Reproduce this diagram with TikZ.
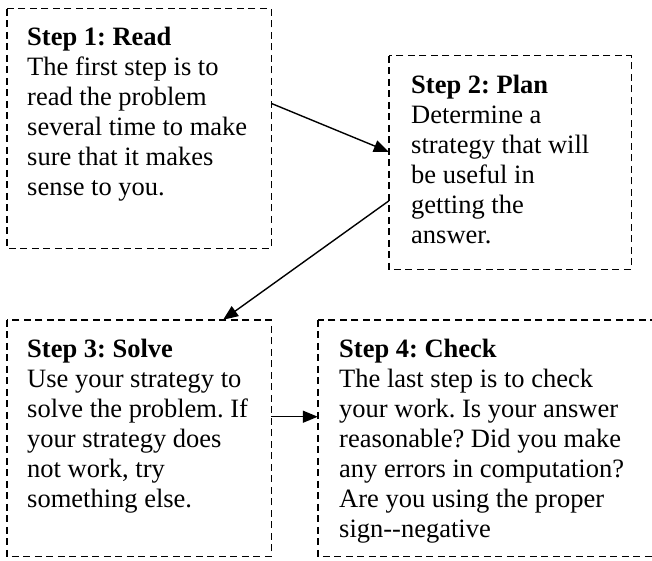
\documentclass[tikz,border=0pt]{standalone}
\usepackage{fontspec}
\setmainfont{Liberation Serif}
\usetikzlibrary{arrows.meta,calc}
\begin{document}
\frenchspacing
\begin{tikzpicture}[x=1pt,y=-1pt,
  stepbox/.style={draw, line width=1.4pt, dash pattern=on 7pt off 4.5pt},
  steptext/.style={anchor=north west, inner sep=0pt, align=left,
    font=\fontsize{26.5}{30}\selectfont},
  conn/.style={line width=1.4pt, -{Triangle[length=15pt,width=12pt]}}]
\useasboundingbox (0,0) rectangle (652,561);
\clip (0,0) rectangle (652,561);
\fill[white] (0,0) rectangle (652,561);
% boxes
\node[inner sep=0pt, minimum width=264pt, minimum height=239pt] (b1) at (139,128.5) {};
\draw[stepbox] (b1.north west) rectangle (b1.south east);
\node[inner sep=0pt, minimum width=242pt, minimum height=213pt] (b2) at (510,162.5) {};
\draw[stepbox] (b2.north west) rectangle (b2.south east);
\node[inner sep=0pt, minimum width=264pt, minimum height=236pt] (b3) at (139,438) {};
\draw[stepbox] (b3.north west) rectangle (b3.south east);
\node[inner sep=0pt, minimum width=347pt, minimum height=236pt] (b4) at (491.5,438) {};
\draw[stepbox] (b4.north west) rectangle (b4.south east);
% texts
\node[steptext] (t1) at (27,24) {\strut\textbf{Step 1: Read}\\The first step is to\\read the problem\\several time to make\\sure that it makes\\sense to you.};
\node[steptext] (t2) at (411,72) {\strut\textbf{Step 2: Plan}\\Determine a\\strategy that will\\be useful in\\getting the\\answer.};
\node[steptext] (t3) at (27,336) {\strut\textbf{Step 3: Solve}\\Use your strategy to\\solve the problem. If\\your strategy does\\not work, try\\something else.};
\node[steptext] (t4) at (339,336) {\strut\textbf{Step 4: Check}\\The last step is to check\\your work. Is your answer\\reasonable? Did you make\\any errors in computation?\\Are you using the proper\\sign-{}-negative};
% connectors
\coordinate (a1s) at ($(b1.north east)!0.395!(b1.south east)$);
\coordinate (a1e) at ($(b2.north west)!0.45!(b2.south west)$);
\draw[conn] (a1s) -- (a1e);
\coordinate (a2s) at ($(b2.north west)!0.68!(b2.south west)$);
\coordinate (a2e) at ($(b3.north west)!0.818!(b3.north east)$);
\draw[conn] (a2s) -- (a2e);
\coordinate (a3s) at ($(b3.north east)!0.41!(b3.south east)$);
\draw[conn] (a3s) -- (a3s -| b4.west);
\end{tikzpicture}
\end{document}
